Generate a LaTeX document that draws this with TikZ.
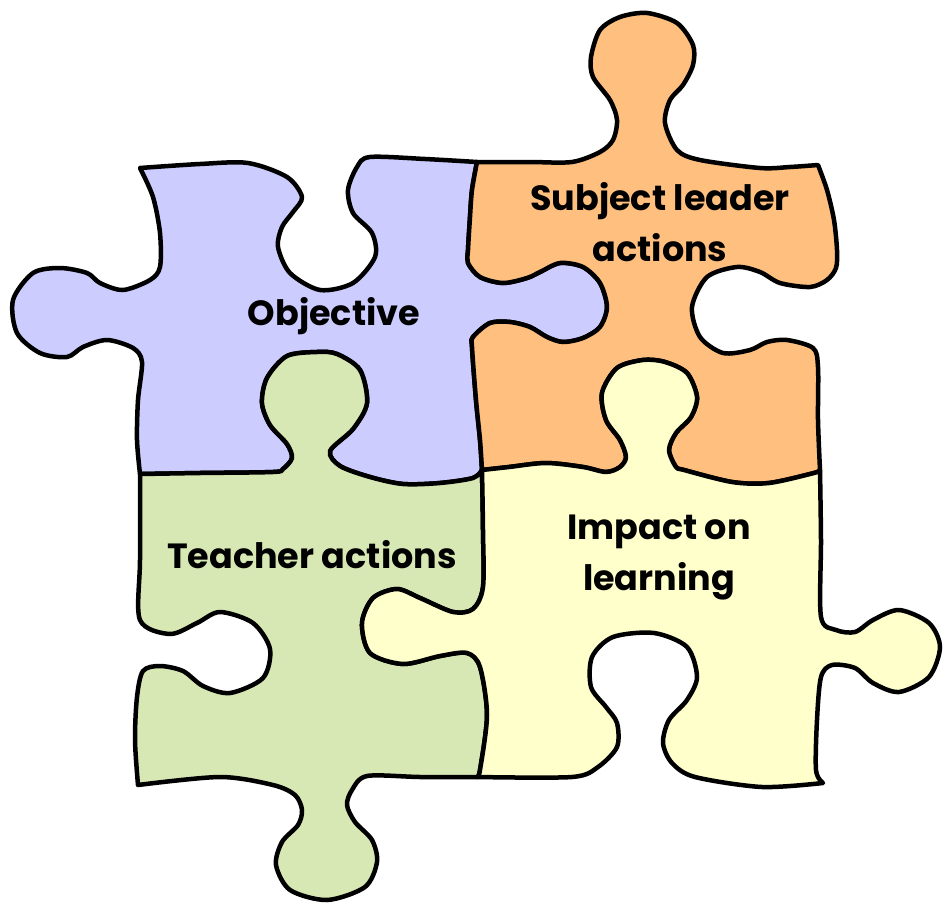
\documentclass[tikz,border=0pt]{standalone}
\usepackage{fontspec}
\setmainfont{Poppins}
\definecolor{objfill}{HTML}{CCCCFF}
\definecolor{leadfill}{HTML}{FFBF7F}
\definecolor{teachfill}{HTML}{D8E8B4}
\definecolor{impactfill}{HTML}{FFFFCC}
\tikzset{
x=1pt, y=-1pt,
piece/.style={draw=black, line width=4.5pt, line join=round},
objpiece/.style={piece, fill=objfill},
leadpiece/.style={piece, fill=leadfill},
teachpiece/.style={piece, fill=teachfill},
impactpiece/.style={piece, fill=impactfill},
label/.style={align=center, font=\fontsize{35}{51}\selectfont\bfseries},
}

\begin{document}
\begin{tikzpicture}
    \useasboundingbox (0,0) rectangle (943,905);

    \draw[objpiece] plot[smooth] coordinates {(140,168) (200,164) (248,163) (287,177) (302,197) (293,212) (282,227) (278,247) (290,273) (320,290) (353,283) (375,257) (372,233) (353,213) (348,190) (357,167) (370,157) (425,159) (477,162)}
        -- plot[smooth] coordinates {(477,162) (472,190) (470,217) (468,250) (468,263) (480,277) (503,283) (527,278) (540,272) (560,263) (583,267) (600,283) (607,307) (600,327) (583,338) (563,342) (547,337) (530,327) (510,322) (490,323) (473,337) (472,347) (476,400) (480,440) (482,470)}
        -- plot[smooth] coordinates {(482,470) (473,478) (440,483) (403,484) (370,477) (340,466) (330,451) (353,429) (367,403) (360,370) (337,354) (317,352) (287,356) (267,378) (262,403) (270,425) (287,444) (292,458) (283,469) (273,472) (200,473) (140,474)}
        -- plot[smooth] coordinates {(140,474) (137,440) (138,400) (142,362) (133,348) (107,340) (83,347) (67,357) (40,353) (17,333) (13,300) (33,273) (60,268) (87,273) (100,283) (123,290) (150,280) (160,267) (160,233) (153,197) (140,168)}
        -- cycle;

    \draw[leadpiece] plot[smooth] coordinates {(477,162) (530,162) (572,162) (600,152) (613,140) (617,120) (610,100) (593,77) (591,57) (600,30) (620,17) (647,13) (677,23) (693,45) (693,65) (683,85) (670,100) (665,123) (677,150) (700,160) (760,168) (790,167) (818,165)}
        -- plot[smooth] coordinates {(818,165) (827,190) (834,220) (837,250) (836,268) (827,280) (810,287) (780,283) (760,272) (737,267) (707,277) (692,307) (700,337) (723,353) (750,350) (767,342) (787,340) (813,348) (818,367) (818,420) (820,470)}
        -- plot[smooth] coordinates {(820,470) (814,473) (769,483) (732,482) (684,470) (676,467) (669,450) (676,433) (691,417) (697,397) (687,373) (665,362) (643,360) (617,368) (602,393) (606,420) (620,440) (626,457) (620,467) (606,472) (583,467) (546,463) (509,467) (482,470)}
        -- plot[smooth] coordinates {(482,470) (480,440) (476,400) (472,347) (473,337) (490,323) (510,322) (530,327) (547,337) (563,342) (583,338) (600,327) (607,307) (600,283) (583,267) (560,263) (540,272) (527,278) (503,283) (480,277) (468,263) (468,250) (470,217) (472,190) (477,162)}
        -- cycle;

    \draw[teachpiece] plot[smooth] coordinates {(140,474) (200,473) (273,472) (283,469) (292,458) (287,444) (270,425) (262,403) (267,378) (287,356) (317,352) (337,354) (360,370) (367,403) (353,429) (330,451) (340,466) (370,477) (403,484) (440,483) (473,478) (482,470)}
        -- plot[smooth] coordinates {(482,470) (483,530) (483,587) (473,609) (453,612) (420,598) (397,589) (373,598) (362,623) (370,653) (403,664) (440,656) (467,653) (480,667) (487,715) (480,770) (477,777)}
        -- plot[smooth] coordinates {(477,777) (420,777) (367,776) (352,790) (347,805) (355,822) (372,840) (377,862) (365,887) (327,900) (290,890) (276,865) (282,842) (298,825) (302,810) (295,795) (273,785) (220,777) (138,785)}
        -- plot[smooth] coordinates {(138,785) (135,740) (137,697) (143,671) (160,666) (183,671) (203,686) (230,693) (263,678) (270,649) (253,623) (220,612) (197,623) (170,634) (140,620) (140,560) (140,474)}
        -- cycle;

    \draw[impactpiece] plot[smooth] coordinates {(482,470) (509,467) (546,463) (583,467) (606,472) (620,467) (626,457) (620,440) (606,420) (602,393) (617,368) (643,360) (665,362) (687,373) (697,397) (691,417) (676,433) (669,450) (676,467) (684,470) (732,482) (769,483) (814,473) (820,470)}
        -- plot[smooth] coordinates {(820,470) (821,540) (821,617) (836,630) (855,632) (873,620) (899,610) (929,623) (940,647) (929,677) (899,692) (873,683) (855,668) (832,665) (821,677) (817,720) (816,770) (823,783)}
        -- plot[smooth] coordinates {(823,783) (762,787) (695,777) (672,763) (663,743) (669,720) (687,700) (697,677) (687,647) (654,633) (613,637) (592,657) (591,687) (606,707) (617,723) (617,747) (598,767) (572,777) (477,777)}
        -- plot[smooth] coordinates {(477,777) (480,770) (487,715) (480,667) (467,653) (440,656) (403,664) (370,653) (362,623) (373,598) (397,589) (420,598) (453,612) (473,609) (483,587) (483,530) (482,470)}
        -- cycle;

    \node[label] (objective) at (334,316) {Objective};
    \node[label] (leader) at (660,222) {Subject leader\\actions};
    \node[label] (teacher) at (312,555) {Teacher actions};
    \node[label] (impact) at (659,558) {Impact on\\learning};
\end{tikzpicture}
\end{document}
